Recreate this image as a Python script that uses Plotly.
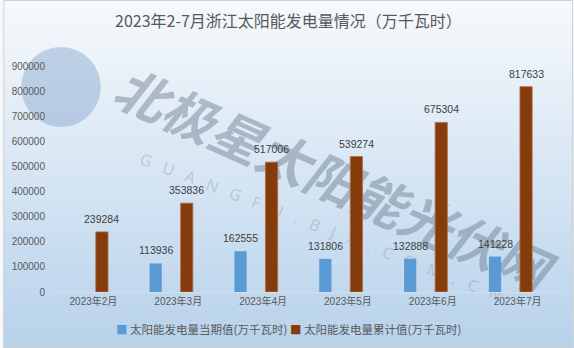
import plotly.graph_objects as go

# Monthly solar generation in Zhejiang, 2023 (10k kWh)
months = ["2023年2月", "2023年3月", "2023年4月", "2023年5月", "2023年6月", "2023年7月"]
monthly = [None, 113936, 162555, 131806, 132888, 141228]
cumulative = [239284, 353836, 517006, 539274, 675304, 817633]
y_ticks = [0, 100000, 200000, 300000, 400000, 500000, 600000, 700000, 800000, 900000]

name_monthly = "太阳能发电量当期值(万千瓦时)"
name_cumulative = "太阳能发电量累计值(万千瓦时)"
title_text = "2023年2-7月浙江太阳能发电量情况（万千瓦时）"

color_monthly = "#5b9bd5"
color_cumulative = "#843c0c"

W, H = 574, 348
ML, MR, MT, MB = 48, 14, 66, 56
PW, PH = W - ML - MR, H - MT - MB

BAR_W = 0.144
OFF_MONTHLY = -0.338
OFF_CUM = 0.028


def px_x(x):
    return (x - ML) / PW


def px_y(y):
    return (H - MB - y) / PH


num_font = "Liberation Sans, Noto Sans CJK SC, sans-serif"
cjk_font = "Noto Sans CJK SC, sans-serif"
grey = "#595959"

fig = go.Figure()
fig.add_trace(go.Bar(
    x=months, y=monthly, name=name_monthly,
    marker=dict(color=color_monthly, line=dict(width=0)),
    width=BAR_W, offset=OFF_MONTHLY,
))
fig.add_trace(go.Bar(
    x=months, y=cumulative, name=name_cumulative,
    marker=dict(color=color_cumulative, line=dict(width=0.8, color="#b8693a")),
    width=BAR_W, offset=OFF_CUM,
))

annotations = []
# value labels above each bar
for series, off in ((monthly, OFF_MONTHLY), (cumulative, OFF_CUM)):
    for i, v in enumerate(series):
        if v is None:
            continue
        annotations.append(dict(
            x=i + off + BAR_W / 2, y=v, xref="x", yref="y",
            text="%d" % v, showarrow=False,
            xanchor="center", yanchor="bottom", yshift=5,
            font=dict(family=num_font, size=10.5, color="#404040"),
        ))

shapes = []
# vertical background gradient, light at the top fading to pale blue
top_c = (246, 249, 252)
bot_c = (183, 210, 235)
n = 70
for i in range(n):
    t = i / (n - 1)
    c = tuple(round(top_c[k] + (bot_c[k] - top_c[k]) * t) for k in range(3))
    y0 = H * i / n
    y1 = H * (i + 1) / n + 0.6
    shapes.append(dict(
        type="rect", xref="paper", yref="paper", layer="below",
        x0=px_x(0), x1=px_x(W), y0=px_y(y1), y1=px_y(y0),
        fillcolor="rgb(%d,%d,%d)" % c, line=dict(width=0),
    ))

# site logo disc
shapes.append(dict(
    type="circle", xref="paper", yref="paper", layer="below",
    x0=px_x(18), x1=px_x(98), y0=px_y(127), y1=px_y(47),
    fillcolor="rgba(130,165,205,0.45)", line=dict(width=0),
))

# watermark text
shapes.append(dict(
    type="rect", xref="paper", yref="paper", layer="below",
    x0=px_x(327), x1=px_x(329), y0=px_y(185), y1=px_y(183),
    line=dict(width=0), fillcolor="rgba(0,0,0,0)",
    label=dict(text="北极星太阳能光伏网", textangle=24,
               textposition="middle center",
               font=dict(family=cjk_font, size=52, color="rgba(105,120,140,0.45)",
                         weight=700, style="italic")),
))
sp = "\u00a0\u00a0\u00a0"
shapes.append(dict(
    type="rect", xref="paper", yref="paper", layer="below",
    x0=px_x(318), x1=px_x(320), y0=px_y(229), y1=px_y(227),
    line=dict(width=0), fillcolor="rgba(0,0,0,0)",
    label=dict(text=sp.join("GUANGFU.BJX.COM.CN"), textangle=21,
               textposition="middle center",
               font=dict(family="Noto Sans, sans-serif", size=16,
                         color="rgba(140,152,170,0.40)")),
))

# outer frame
shapes.append(dict(
    type="rect", xref="paper", yref="paper", layer="above",
    x0=px_x(0.5), x1=px_x(W - 1.5), y0=px_y(H - 1.5), y1=px_y(0.5),
    line=dict(width=1, color="#d0d0d0"), fillcolor="rgba(0,0,0,0)",
))

legend_text = (
    '<span style="color:%s">■</span> %s <span style="color:%s">■</span> %s'
    % (color_monthly, name_monthly, color_cumulative, name_cumulative)
)

annotations += [
    dict(
        text=title_text, xref="paper", yref="paper",
        x=px_x(W / 2), y=px_y(20), xanchor="center", yanchor="middle",
        showarrow=False,
        font=dict(family=cjk_font, size=16, color=grey),
    ),
    dict(
        text=legend_text, xref="paper", yref="paper",
        x=px_x(287), y=px_y(329), xanchor="center", yanchor="middle",
        showarrow=False,
        font=dict(family=cjk_font, size=11.5, color=grey),
    ),
]

fig.update_layout(
    width=W, height=H,
    margin=dict(l=ML, r=MR, t=MT, b=MB),
    paper_bgcolor="rgb(%d,%d,%d)" % top_c,
    plot_bgcolor="rgba(0,0,0,0)",
    barmode="overlay",
    showlegend=False,
    shapes=shapes,
    annotations=annotations,
    xaxis=dict(
        type="category", categoryorder="array", categoryarray=months,
        showline=True, linecolor="#d6dde4", linewidth=1,
        ticks="outside", tickson="boundaries", ticklen=4, tickcolor="#d6dde4",
        showgrid=False, zeroline=False,
        tickfont=dict(family=num_font, size=10, color=grey),
        range=[-0.5, 5.5],
    ),
    yaxis=dict(
        range=[0, 900000], tickvals=y_ticks, tickformat="d",
        showgrid=False, zeroline=False, showline=False,
        ticks="outside", ticklen=3, tickcolor="rgba(0,0,0,0)",
        tickfont=dict(family=num_font, size=10, color=grey),
    ),
)

fig.write_html("out.html")
